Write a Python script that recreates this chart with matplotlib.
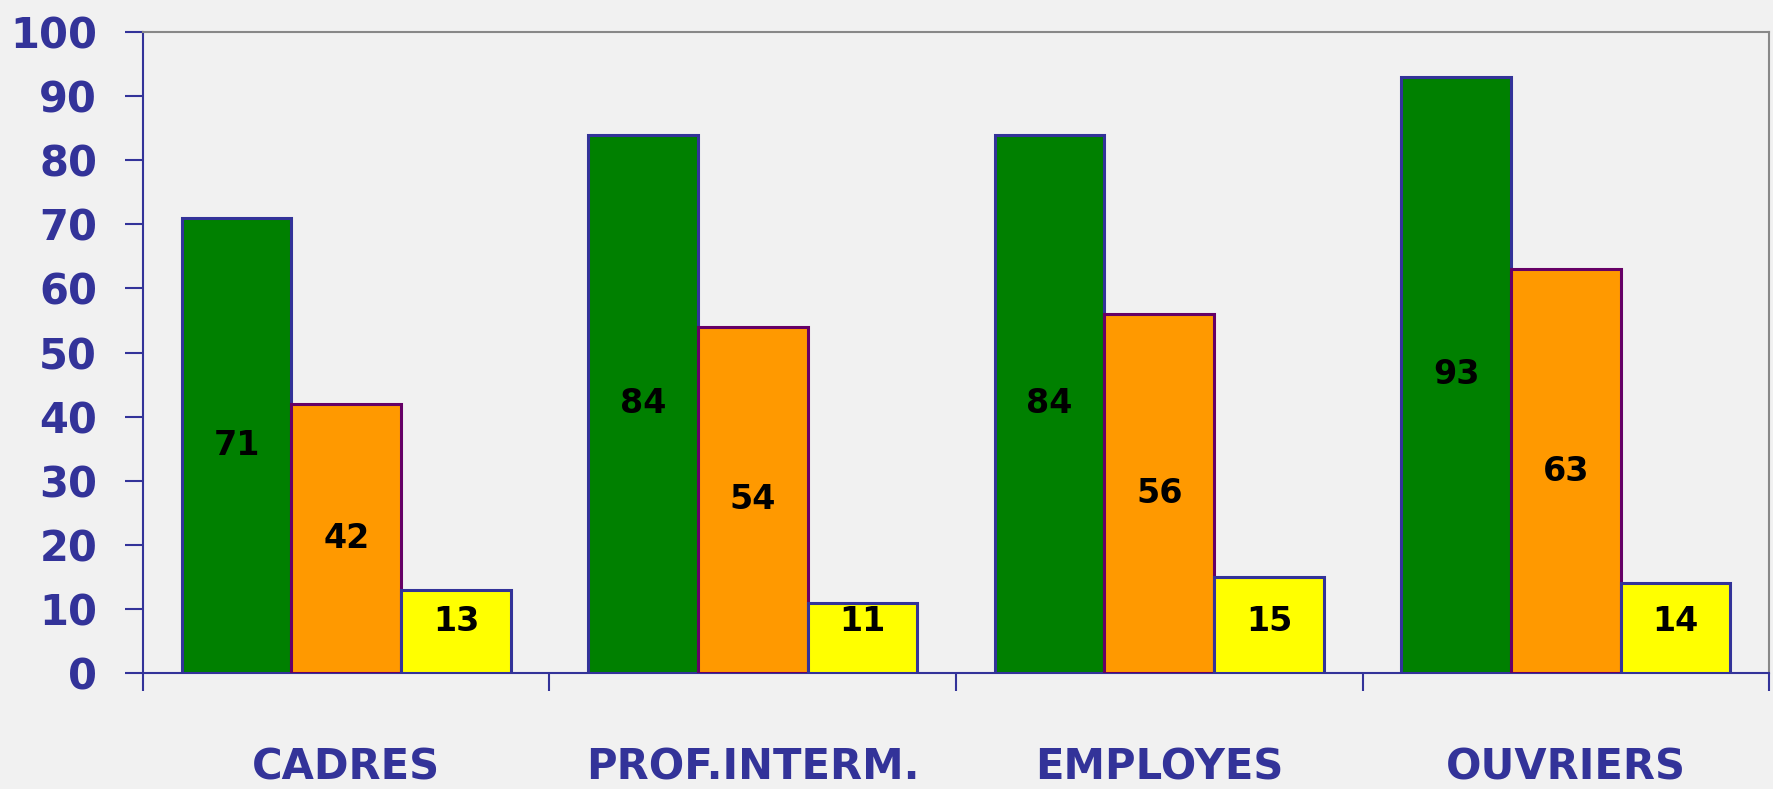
import numpy as np
import matplotlib.pyplot as plt

# data
categories = ["CADRES", "PROF.INTERM.", "EMPLOYES", "OUVRIERS"]
serie_vert = [71, 84, 84, 93]
serie_orange = [42, 54, 56, 63]
serie_jaune = [13, 11, 15, 14]

navy = "#333399"
bg = "#f1f1f1"

fig = plt.figure(figsize=(17.74, 7.89), dpi=100)
fig.patch.set_facecolor(bg)
ax = fig.add_axes([0.0806, 0.147, 0.9166, 0.8124])
ax.set_facecolor(bg)

x = np.arange(len(categories))
w = 0.27

series = [
    (serie_vert, "#008000", navy),
    (serie_orange, "#FF9900", "#660066"),
    (serie_jaune, "#FFFF00", navy),
]

for i, (vals, face, edge) in enumerate(series):
    pos = x + (i - 1) * w
    ax.bar(pos, vals, width=w, color=face, edgecolor=edge, linewidth=2.2, zorder=3)
    for p, v in zip(pos, vals):
        ax.text(p, max(v / 2, 8), str(v), ha="center", va="center",
                fontsize=24, fontweight="bold", color="black", zorder=4)

ax.set_xlim(-0.5, 3.5)
ax.set_ylim(0, 100)

# y axis
ax.set_yticks(range(0, 101, 10))
ax.tick_params(axis="y", direction="out", length=13, width=1.5, color=navy,
               pad=20, labelsize=30, labelcolor=navy)
for t in ax.get_yticklabels():
    t.set_fontweight("bold")

# x axis: ticks at boundaries, labels at centers
ax.set_xticks(np.arange(-0.5, 4, 1))
ax.set_xticklabels([])
ax.set_xticks(x, minor=True)
ax.set_xticklabels(categories, minor=True)
ax.tick_params(axis="x", which="major", direction="out", length=13, width=1.5, color=navy)
ax.tick_params(axis="x", which="minor", length=0, pad=53, labelsize=30, labelcolor=navy)
for t in ax.get_xticklabels(minor=True):
    t.set_fontweight("bold")

ax.spines["left"].set_color(navy)
ax.spines["bottom"].set_color(navy)
ax.spines["left"].set_linewidth(1.5)
ax.spines["bottom"].set_linewidth(1.5)
ax.spines["top"].set_color("#888888")
ax.spines["right"].set_color("#888888")
ax.spines["top"].set_linewidth(1.5)
ax.spines["right"].set_linewidth(1.5)

plt.savefig("out.png", dpi=100, facecolor=bg)
